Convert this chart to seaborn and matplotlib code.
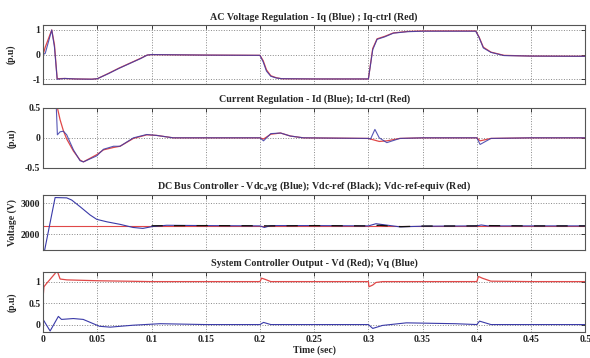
import numpy as np
import pandas as pd
import seaborn as sns
import matplotlib.pyplot as plt

# ---- data ----
# panel 1: Iq (blue), Iq-ctrl (red)
t_iq = [0, 0.002, 0.008, 0.0105, 0.013, 0.02, 0.03, 0.045, 0.05, 0.06, 0.07, 0.08, 0.09, 0.096,
        0.1, 0.15, 0.2, 0.203, 0.206, 0.21, 0.215, 0.22, 0.25, 0.3, 0.304, 0.308, 0.315,
        0.323, 0.336, 0.35, 0.399, 0.402, 0.406, 0.413, 0.425, 0.45, 0.5]
iq_blue = [0.0, 0.05, 1.0, 0.3, -1.0, -0.97, -0.99, -1.0, -0.98, -0.78, -0.56, -0.36, -0.16, -0.02,
           0.0, -0.02, -0.03, -0.3, -0.67, -0.88, -0.95, -0.98, -0.99, -0.99, 0.2, 0.62, 0.72,
           0.87, 0.93, 0.95, 0.95, 0.7, 0.27, 0.09, -0.04, -0.06, -0.07]
iq_red = [0.0, 0.3, 1.0, 0.4, -0.98, -0.97, -0.99, -1.0, -0.98, -0.77, -0.55, -0.35, -0.15, -0.02,
          0.0, -0.02, -0.03, -0.25, -0.62, -0.86, -0.94, -0.98, -0.99, -0.99, 0.25, 0.64, 0.74,
          0.88, 0.94, 0.96, 0.96, 0.72, 0.3, 0.1, -0.03, -0.06, -0.07]

# panel 2: Id (blue), Id-ctrl (red)
t_id = [0, 0.012, 0.0132, 0.0157, 0.0187, 0.0218, 0.028, 0.0341, 0.0372, 0.0495, 0.0557,
        0.065, 0.071, 0.0833, 0.0956, 0.1048, 0.12, 0.2, 0.2033, 0.21, 0.219, 0.228, 0.24,
        0.3, 0.302, 0.306, 0.31, 0.317, 0.329, 0.35, 0.4, 0.403, 0.408, 0.413, 0.45, 0.5]
id_blue = [1.5, 0.6, 0.05, 0.1, 0.11, 0.05, -0.2, -0.38, -0.4, -0.3, -0.19, -0.14, -0.14,
           0.0, 0.055, 0.04, 0.0, 0.0, -0.05, 0.07, 0.08, 0.03, 0.0, -0.01, -0.02, 0.14, 0.0,
           -0.08, -0.01, 0.0, 0.0, -0.11, -0.06, -0.01, 0.0, 0.0]
id_red = [1.5, 0.62, 0.5, 0.3, 0.12, -0.02, -0.22, -0.37, -0.4, -0.28, -0.2, -0.16, -0.14,
          -0.01, 0.05, 0.04, 0.0, 0.0, -0.02, 0.06, 0.08, 0.03, 0.0, -0.01, -0.02, -0.04, -0.06,
          -0.05, -0.01, 0.0, 0.0, -0.05, -0.03, -0.01, 0.0, 0.0]

# panel 3: Vdc_avg (blue), Vdc-ref (black), Vdc-ref-equiv (red)
t_vdc = [0, 0.0015, 0.0111, 0.0218, 0.0264, 0.034, 0.0434, 0.0495, 0.059, 0.071, 0.083,
         0.092, 0.101, 0.114, 0.15, 0.2, 0.204, 0.21, 0.25, 0.3, 0.307, 0.318, 0.329, 0.35,
         0.4, 0.404, 0.41, 0.45, 0.5]
vdc_blue = [1400, 1500, 3180, 3170, 3100, 2890, 2620, 2480, 2400, 2320, 2220, 2190, 2250,
            2290, 2280, 2270, 2220, 2280, 2280, 2270, 2340, 2290, 2240, 2260, 2270, 2300,
            2270, 2270, 2270]
t_ref = [0.1, 0.15, 0.2, 0.21, 0.25, 0.3, 0.31, 0.33, 0.35, 0.4, 0.41, 0.45, 0.5]
vdc_ref = [2275, 2280, 2275, 2270, 2280, 2270, 2290, 2245, 2265, 2270, 2280, 2270, 2270]
vdc_equiv = 2260

# panel 4: Vd (red), Vq (blue)
t_v = [0, 0.0008, 0.003, 0.0111, 0.0126, 0.0157, 0.022, 0.05, 0.1, 0.2, 0.2015, 0.205,
       0.21, 0.3, 0.3005, 0.304, 0.307, 0.313, 0.35, 0.4, 0.4015, 0.405, 0.413, 0.45, 0.5]
vd_red = [0.62, 0.88, 0.95, 1.19, 1.28, 1.06, 1.04, 1.02, 1.0, 1.0, 1.08, 1.05, 1.0, 1.0,
          0.88, 0.92, 0.98, 1.0, 1.0, 1.0, 1.12, 1.08, 1.01, 1.0, 1.0]
t_q = [0, 0.0065, 0.0141, 0.017, 0.0279, 0.037, 0.052, 0.062, 0.083, 0.108, 0.15, 0.2,
       0.2033, 0.21, 0.3, 0.304, 0.313, 0.335, 0.38, 0.4, 0.4025, 0.413, 0.45, 0.5]
vq_blue = [0.12, -0.15, 0.19, 0.12, 0.14, 0.12, -0.04, -0.06, -0.015, 0.02, 0.0, 0.0,
           0.05, 0.0, 0.0, -0.09, -0.02, 0.04, 0.02, 0.0, 0.08, 0.0, 0.0, 0.0]

x_ticks = [0, 0.05, 0.1, 0.15, 0.2, 0.25, 0.3, 0.35, 0.4, 0.45, 0.5]
x_tick_labels = ["0", "0.05", "0.1", "0.15", "0.2", "0.25", "0.3", "0.35", "0.4", "0.45", "0.5"]

BLUE = "#3a3aa8"
RED = "#e04848"

sns.set_style("white")
plt.rcParams["font.family"] = ["Liberation Serif", "DejaVu Serif"]
plt.rcParams["font.weight"] = "bold"
plt.rcParams["mathtext.fontset"] = "custom"
plt.rcParams["mathtext.rm"] = "Liberation Serif:bold"
plt.rcParams["mathtext.it"] = "Liberation Serif:bold"

fig = plt.figure(figsize=(5.9, 3.58), dpi=100)

# axes boxes (left, bottom, width, height) in figure fractions
boxes = [
    (0.073, 0.765, 0.919, 0.165),
    (0.073, 0.531, 0.919, 0.168),
    (0.073, 0.302, 0.919, 0.154),
    (0.073, 0.073, 0.919, 0.168),
]
axes = [fig.add_axes(b) for b in boxes]


def style(ax, title, ylabel, ylim, yticks, yticklabels, show_x=False, pad=8):
    ax.set_xlim(0, 0.5)
    ax.set_ylim(*ylim)
    ax.set_xticks(x_ticks)
    ax.set_yticks(yticks)
    ax.set_yticklabels(yticklabels)
    if show_x:
        ax.set_xticklabels(x_tick_labels)
        ax.set_xlabel("Time (sec)", fontsize=7, fontweight="bold", labelpad=1)
    else:
        ax.set_xticklabels([])
        ax.set_xlabel("")
    ax.set_ylabel(ylabel, fontsize=7, fontweight="bold", labelpad=pad)
    ax.set_title(title, fontsize=7.2, fontweight="bold", pad=4)
    ax.grid(True, linestyle=":", color="#888888", linewidth=0.7)
    ax.tick_params(direction="in", length=3, width=0.6, labelsize=7,
                   top=True, right=True, pad=2, colors="#222222")
    for s in ax.spines.values():
        s.set_color("#555555")
        s.set_linewidth(0.8)


# panel 1
ax = axes[0]
sns.lineplot(x=t_iq, y=iq_red, ax=ax, color=RED, lw=0.9)
sns.lineplot(x=t_iq, y=iq_blue, ax=ax, color=BLUE, lw=0.8, alpha=0.85)
style(ax, "AC Voltage Regulation - Iq (Blue) ; Iq-ctrl (Red)", "(p.u)",
      (-1.2, 1.2), [-1, 0, 1], ["-1", "0", "1"], pad=12)

# panel 2
ax = axes[1]
sns.lineplot(x=t_id, y=id_red, ax=ax, color=RED, lw=0.9)
sns.lineplot(x=t_id, y=id_blue, ax=ax, color=BLUE, lw=0.8, alpha=0.85)
style(ax, "Current Regulation - Id (Blue); Id-ctrl (Red)", "(p.u)",
      (-0.5, 0.5), [-0.5, 0, 0.5], ["-0.5", "0", "0.5"], pad=6)

# panel 3
ax = axes[2]
ax.axhline(vdc_equiv, color=RED, lw=0.8)
sns.lineplot(x=t_vdc, y=vdc_blue, ax=ax, color=BLUE, lw=0.8)
sns.lineplot(x=t_ref, y=vdc_ref, ax=ax, color="#111111", lw=0.9)
ax.lines[-1].set_dashes([9, 9])
style(ax, "DC Bus Controller - Vdc$_{a}$vg (Blue); Vdc-ref (Black); Vdc-ref-equiv (Red)",
      "Voltage (V)", (1500, 3270), [2000, 3000], ["2000", "3000"], pad=3)

# panel 4
ax = axes[3]
sns.lineplot(x=t_v, y=vd_red, ax=ax, color=RED, lw=0.9)
sns.lineplot(x=t_q, y=vq_blue, ax=ax, color=BLUE, lw=0.8)
style(ax, "System Controller Output - Vd (Red); Vq (Blue)", "(p.u)",
      (-0.17, 1.23), [0, 0.5, 1], ["0", "0.5", "1"], show_x=True, pad=8)

fig.savefig("out.png", dpi=100)
